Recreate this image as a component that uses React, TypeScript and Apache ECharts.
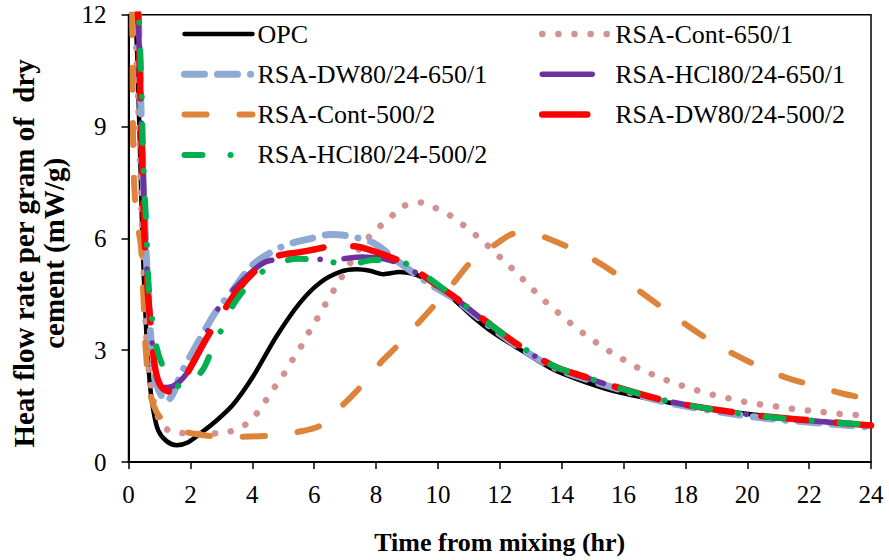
import { useEffect, useRef } from "react";
import * as echarts from "echarts";

const FONT = "Liberation Serif, Times New Roman, Times, serif";

// Axis ranges and tick spacing
const X_MIN = 0;
const X_MAX = 24;
const X_STEP = 2;
const Y_MIN = 0;
const Y_MAX = 12;
const Y_STEP = 3;

const X_TITLE = "Time from mixing (hr)";
const Y_TITLE = "Heat flow rate per gram of  dry\ncement (mW/g)";

// Heat flow curves: [hours after mixing, mW/g]
const opc: [number, number][] = [
  [0.08, 15], [0.3, 10.5], [0.45, 6.0], [0.58, 3.4], [0.69, 2.1], [0.8, 1.4],
  [0.96, 0.85], [1.23, 0.56], [1.56, 0.45], [1.93, 0.53], [2.31, 0.76], [2.8, 1.08],
  [3.39, 1.55], [4.03, 2.3], [4.79, 3.38], [5.54, 4.27], [6.19, 4.81], [6.84, 5.1],
  [7.37, 5.17], [7.8, 5.13], [8.24, 5.04], [8.77, 5.1], [9.31, 5.02], [10.0, 4.72],
  [10.6, 4.3], [11.2, 3.85], [11.79, 3.47], [12.65, 3.02], [13.73, 2.48], [14.81, 2.13],
  [15.89, 1.86], [17.5, 1.59], [18.5, 1.45], [20.73, 1.22], [22.5, 1.08], [24, 0.98],
];

const cont650: [number, number][] = [
  [0.08, 15], [0.3, 10], [0.45, 6], [0.58, 3.3], [0.68, 2.3], [0.85, 1.5],
  [1.06, 1.01], [1.3, 0.85], [1.6, 0.79], [2.3, 0.76], [3.12, 0.79], [3.66, 0.94],
  [4.03, 1.19], [4.36, 1.55], [4.63, 1.9], [4.95, 2.26], [5.22, 2.64], [5.51, 3.0],
  [5.76, 3.38], [6.03, 3.75], [6.3, 4.14], [6.57, 4.52], [6.84, 4.89], [7.37, 5.61],
  [7.7, 5.97], [8.07, 6.28], [8.45, 6.55], [8.83, 6.84], [9.37, 6.97], [9.85, 6.84],
  [10.34, 6.64], [10.77, 6.39], [11.25, 6.07], [11.63, 5.79], [12.04, 5.47], [12.44, 5.16],
  [12.79, 4.87], [13.17, 4.55], [13.55, 4.25], [13.95, 3.96], [14.34, 3.69], [14.75, 3.42],
  [15.18, 3.17], [15.62, 2.93], [16.08, 2.71], [16.53, 2.5], [17.02, 2.32], [17.5, 2.16],
  [18.0, 2.02], [18.5, 1.89], [19.0, 1.78], [19.5, 1.69], [20.0, 1.6], [20.55, 1.53],
  [21.1, 1.47], [21.6, 1.41], [22.25, 1.36], [22.85, 1.3], [23.4, 1.27], [24, 1.23],
];

const dw650: [number, number][] = [
  [0.08, 15], [0.3, 12.3], [0.42, 9], [0.55, 6], [0.7, 3.6], [0.86, 2.2],
  [1.05, 1.8], [1.22, 1.62], [1.45, 1.85], [1.66, 2.3], [1.88, 2.66], [2.31, 3.3],
  [2.8, 4.0], [3.39, 4.63], [4.03, 5.3], [5.0, 5.79], [5.97, 6.01], [6.5, 6.1],
  [7.05, 6.07], [7.91, 5.88], [8.77, 5.34], [9.85, 4.71], [10.5, 4.4], [11.58, 3.7],
  [12.55, 3.12], [13.73, 2.54], [14.81, 2.22], [15.89, 1.94], [17.18, 1.64], [18.25, 1.46],
  [20.41, 1.19], [22.57, 1.03], [24, 0.93],
];

const hcl650: [number, number][] = [
  [0.08, 15], [0.3, 12.2], [0.42, 9], [0.55, 6], [0.7, 3.8], [0.85, 2.6],
  [1.0, 2.15], [1.23, 2.0], [1.6, 2.12], [1.99, 2.5], [2.31, 3.0], [2.85, 4.05],
  [3.5, 4.71], [4.47, 5.38], [5.44, 5.45], [6.62, 5.43], [7.54, 5.5], [8.45, 5.41],
  [9.31, 5.07], [10.5, 4.42], [11.58, 3.74], [12.55, 3.15], [13.73, 2.57], [14.81, 2.26],
  [15.89, 1.97], [17.18, 1.68], [18.25, 1.5], [20.41, 1.23], [22.57, 1.07], [24, 0.98],
];

const cont500: [number, number][] = [
  [0.08, 15], [0.13, 11], [0.16, 8], [0.25, 6.6], [0.4, 5.8], [0.48, 4.5],
  [0.55, 3.1], [0.7, 1.85], [0.9, 1.35], [1.2, 1.05], [1.77, 0.82], [2.64, 0.7],
  [3.6, 0.68], [4.47, 0.7], [5.0, 0.74], [5.44, 0.8], [6.19, 0.97], [6.89, 1.5],
  [7.48, 2.0], [8.13, 2.65], [8.67, 3.1], [9.37, 3.73], [9.9, 4.22], [10.5, 4.8],
  [11.14, 5.43], [11.85, 5.83], [12.3, 6.08], [12.7, 6.17], [13.1, 6.12], [13.52, 6.01],
  [14.38, 5.7], [15.13, 5.38], [15.94, 4.94], [16.59, 4.54], [17.4, 4.05], [17.82, 3.8],
  [18.9, 3.2], [19.6, 2.88], [20.47, 2.53], [21.27, 2.26], [22.19, 2.04], [23.1, 1.83],
  [24, 1.68],
];

const dw500: [number, number][] = [
  [0.08, 15], [0.3, 12.2], [0.41, 9], [0.52, 6], [0.63, 4.5], [0.74, 3.47],
  [0.85, 2.57], [1.0, 2.1], [1.2, 1.92], [1.44, 1.88], [1.7, 2.1], [2.14, 2.75],
  [2.63, 3.47], [3.0, 3.95], [3.5, 4.58], [4.14, 5.16], [4.79, 5.52], [5.54, 5.63],
  [6.0, 5.7], [6.51, 5.78], [7.27, 5.79], [8.02, 5.63], [8.99, 5.3], [9.85, 4.81],
  [10.5, 4.45], [11.58, 3.76], [12.55, 3.17], [13.73, 2.58], [14.81, 2.27], [15.89, 1.98],
  [17.18, 1.68], [18.25, 1.5], [20.41, 1.24], [22.57, 1.08], [24, 0.98],
];

const hcl500: [number, number][] = [
  [0.05, 15], [0.3, 12.5], [0.41, 10.3], [0.47, 8.3], [0.52, 7.2], [0.58, 6.3],
  [0.62, 5.2], [0.69, 4.36], [0.9, 3.1], [1.18, 2.44], [1.45, 2.15], [1.72, 2.0],
  [2.0, 2.12], [2.42, 2.5], [2.74, 3.1], [3.06, 3.64], [3.44, 4.29], [4.03, 4.89],
  [4.57, 5.23], [5.44, 5.45], [6.41, 5.4], [7.05, 5.27], [7.91, 5.42], [8.77, 5.38],
  [9.42, 5.1], [10.5, 4.44], [11.58, 3.76], [12.55, 3.17], [13.73, 2.58], [14.81, 2.27],
  [15.89, 1.98], [17.18, 1.68], [18.25, 1.5], [20.41, 1.23], [22.57, 1.08], [24, 0.99],
];

// Series names split into the two legend columns
const LEGEND_LEFT = ["OPC", "RSA-DW80/24-650/1", "RSA-Cont-500/2", "RSA-HCl80/24-500/2"];
const LEGEND_RIGHT = ["RSA-Cont-650/1", "RSA-HCl80/24-650/1", "RSA-DW80/24-500/2"];

type Style = { color: string; width: number; dash: number[] | "solid" };

const curves: { name: string; data: [number, number][]; style: Style }[] = [
  { name: "OPC", data: opc, style: { color: "#000000", width: 4.5, dash: "solid" } },
  { name: "RSA-Cont-650/1", data: cont650, style: { color: "#D39292", width: 6.5, dash: [0.1, 16] } },
  { name: "RSA-DW80/24-650/1", data: dw650, style: { color: "#8EA9D3", width: 7, dash: [20, 13, 20, 13, 0.1, 13] } },
  { name: "RSA-HCl80/24-650/1", data: hcl650, style: { color: "#7030A0", width: 5.5, dash: [50, 24, 0.1, 24, 0.1, 24] } },
  { name: "RSA-Cont-500/2", data: cont500, style: { color: "#DE843A", width: 6, dash: [22, 33] } },
  { name: "RSA-DW80/24-500/2", data: dw500, style: { color: "#FF0000", width: 6.5, dash: [45, 30] } },
  { name: "RSA-HCl80/24-500/2", data: hcl500, style: { color: "#00B050", width: 6, dash: [18, 28, 0.1, 28] } },
];

const lineStyleOf = (s: Style) => ({
  color: s.color,
  width: s.width,
  type: s.dash,
  cap: "round" as const,
  join: "round" as const,
});

const legendItems = (names: string[]) =>
  names.map((name) => {
    const c = curves.find((k) => k.name === name)!;
    return { name, lineStyle: lineStyleOf(c.style), itemStyle: { opacity: 0 } };
  });

const legendBase = {
  orient: "vertical" as const,
  top: 21,
  itemWidth: 68,
  itemHeight: 14,
  itemGap: 14.3,
  padding: 0,
  selectedMode: false,
  itemStyle: { opacity: 0 },
  textStyle: { fontFamily: FONT, fontSize: 26, color: "#000", lineHeight: 26 },
};

export default function App() {
  const ref = useRef<HTMLDivElement>(null);

  useEffect(() => {
    if (!ref.current) return;
    const chart = echarts.init(ref.current, null, { renderer: "svg" });

    chart.setOption({
      animation: false,
      backgroundColor: "#ffffff",
      textStyle: { fontFamily: FONT },
      grid: {
        left: 128.5,
        right: 18,
        top: 14.7,
        bottom: 97.3,
        show: true,
        borderColor: "#000",
        borderWidth: 1.5,
        backgroundColor: "transparent",
      },
      legend: [
        { ...legendBase, left: 181, data: legendItems(LEGEND_LEFT) },
        { ...legendBase, left: 539, data: legendItems(LEGEND_RIGHT) },
      ],
      xAxis: {
        type: "value",
        min: X_MIN,
        max: X_MAX,
        interval: X_STEP,
        name: X_TITLE,
        nameLocation: "middle",
        nameGap: 67,
        nameTextStyle: { fontFamily: FONT, fontSize: 26, fontWeight: "bold", color: "#000" },
        axisLine: { show: true, onZero: false, lineStyle: { color: "#000", width: 2 } },
        axisTick: { show: true, inside: false, length: 7, lineStyle: { color: "#000", width: 1.5 } },
        axisLabel: { fontFamily: FONT, fontSize: 25, color: "#000", margin: 20 },
        splitLine: { show: false },
      },
      yAxis: {
        type: "value",
        min: Y_MIN,
        max: Y_MAX,
        interval: Y_STEP,
        name: Y_TITLE,
        nameLocation: "middle",
        nameRotate: 90,
        nameGap: 60,
        nameTextStyle: {
          fontFamily: FONT,
          fontSize: 29,
          fontWeight: "bold",
          color: "#000",
          lineHeight: 30,
          padding: [0, 30, 0, 0],
        },
        axisLine: { show: true, onZero: false, lineStyle: { color: "#000", width: 2 } },
        axisTick: { show: true, inside: false, length: 7, lineStyle: { color: "#000", width: 1.5 } },
        axisLabel: { fontFamily: FONT, fontSize: 25, color: "#000", margin: 22 },
        splitLine: { show: false },
      },
      series: curves.map((c) => ({
        name: c.name,
        type: "line",
        data: c.data,
        symbol: "none",
        showSymbol: false,
        smooth: 0.3,
        clip: true,
        color: c.style.color,
        lineStyle: lineStyleOf(c.style),
        emphasis: { disabled: true },
      })),
    });

    return () => chart.dispose();
  }, []);

  return (
    <div
      ref={ref}
      style={{ position: "absolute", left: 0, top: 0, width: 889, height: 560, background: "#fff" }}
    />
  );
}
